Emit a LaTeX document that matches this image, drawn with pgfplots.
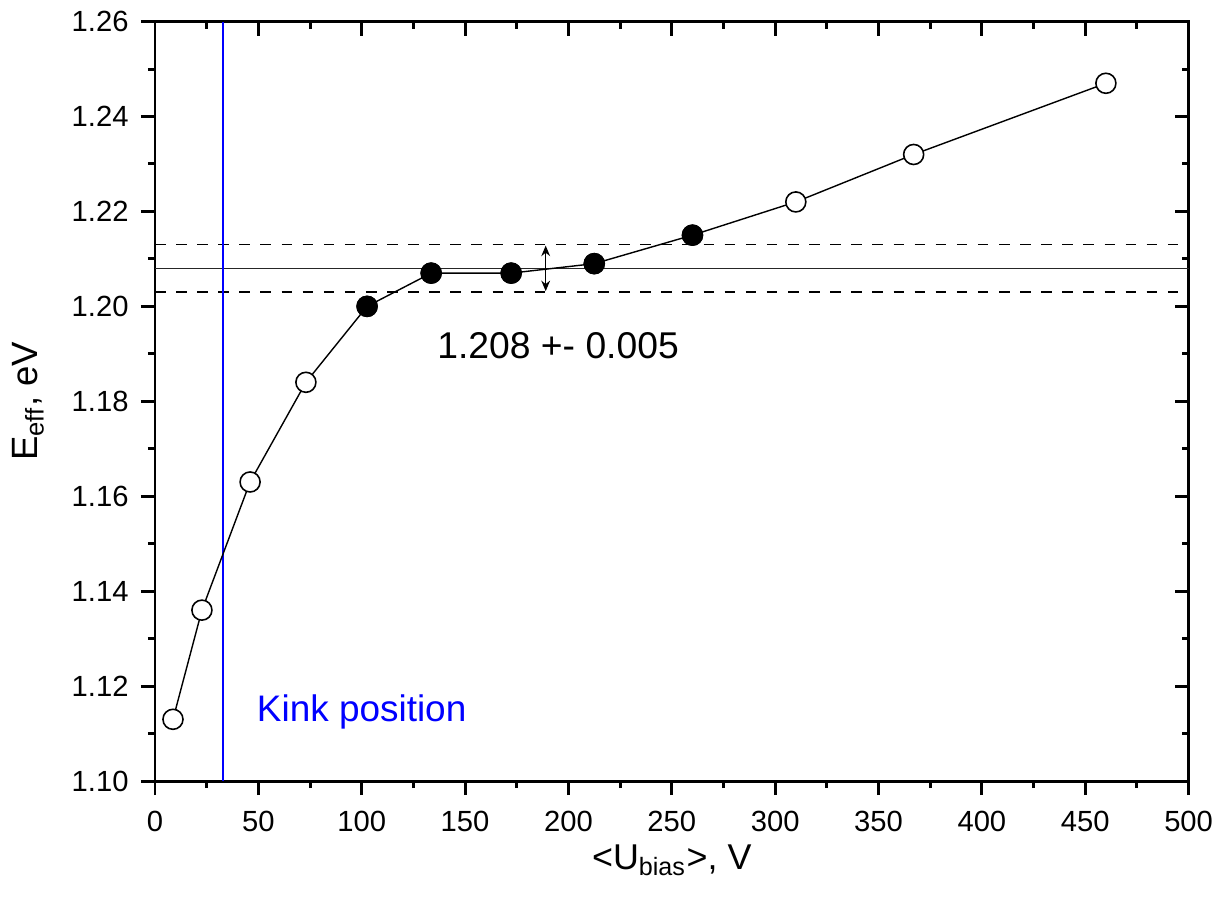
\documentclass[border=0pt]{standalone}
\usepackage{pgfplots}
\pgfplotsset{compat=1.18}
\usepackage{fontspec}
\setmainfont{Liberation Sans}
\usetikzlibrary{arrows.meta}
\begin{document}
\begin{tikzpicture}[x=0.01cm,y=0.01cm]
\path[use as bounding box] (-155,-124) rectangle (1060,781);
\pgfplotsset{every axis/.append style={
  scale only axis, width=10.33cm, height=7.59cm,
  at={(0,0)}, anchor=south west,
  xmin=0, xmax=500, ymin=1.10, ymax=1.26,
  xtick distance=50, ytick distance=0.02,
  minor x tick num=1, minor y tick num=1,
  axis line style={line width=0.85pt},
  major tick length=4pt, minor tick length=2pt,
  every tick/.style={line width=0.85pt, black},
}}
% top/right inner ticks
\begin{axis}[tick align=inside, xtick pos=upper, ytick pos=right,
  xticklabels={}, yticklabels={}]
\end{axis}
\begin{axis}[tick align=outside, xtick pos=lower, ytick pos=left,
  /pgf/number format/assume math mode=true,
  ticklabel style={font=\fontsize{8.3}{9}\selectfont},
  yticklabel style={/pgf/number format/.cd, fixed, fixed zerofill, precision=2},
  xticklabel style={yshift=-1pt, /pgf/number format/.cd, fixed},
  scaled y ticks=false,
  xlabel={\fontsize{10.2}{11}\selectfont <U\textsubscript{bias}>, V},
  ylabel={\fontsize{10.4}{11}\selectfont E\textsubscript{eff}, eV},
  xlabel style={at={(axis description cs:0.5,0)}, anchor=center, yshift=-0.79cm},
  ylabel style={at={(axis description cs:0,0.5)}, anchor=center, yshift=1.27cm},
  clip=false,
]
\addplot[black!85, line width=0.5pt, forget plot] coordinates {(0,1.208) (500,1.208)};
\addplot[black, line width=0.45pt, dashed, forget plot] coordinates {(0,1.213) (500,1.213)};
\addplot[black, line width=0.45pt, dashed, forget plot] coordinates {(0,1.203) (500,1.203)};
\addplot[blue, line width=0.6pt] coordinates {(33,1.10) (33,1.26)};
\addplot[black, line width=0.4pt, {Stealth[length=3pt,width=2.5pt]}-{Stealth[length=3pt,width=2.5pt]}] coordinates {(189,1.2032) (189,1.2128)};
\addplot[black, line width=0.4pt, mark=*, mark size=2.85pt,
  mark options={fill=white, draw=black, line width=0.45pt}] coordinates {
(8.7,1.113) (22.7,1.136) (46,1.163) (73,1.184) (102.6,1.200) (133.6,1.207)
(172.3,1.207) (212.5,1.209) (260,1.215) (310,1.222) (367,1.232) (460,1.247)};
\addplot[only marks, mark=*, mark size=2.85pt,
  mark options={fill=black, draw=black}] coordinates {
(102.6,1.200) (133.6,1.207) (172.3,1.207) (212.5,1.209) (260,1.215)};
\node[font=\fontsize{10.6}{12}\selectfont] at (axis cs:195,1.1917) {1.208 +- 0.005};
\node[font=\fontsize{10.5}{12}\selectfont, text=blue, anchor=west, inner sep=0pt] at (axis cs:49,1.1145) {Kink position};
\end{axis}
\end{tikzpicture}
\end{document}
